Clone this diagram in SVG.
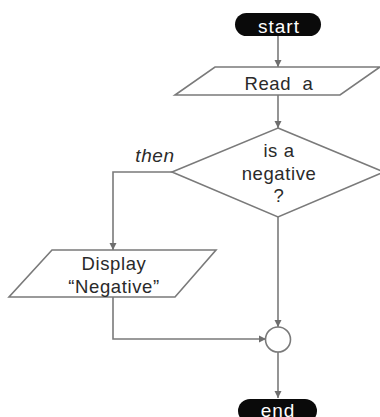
<svg xmlns="http://www.w3.org/2000/svg" width="380" height="417" viewBox="0 0 380 417">
<defs>
<marker id="arr" markerWidth="8" markerHeight="8" refX="7" refY="4" orient="auto" markerUnits="userSpaceOnUse">
<path d="M0,0.5 L7,4 L0,7.5 Z" fill="#6e6e6e"/>
</marker>
<style>
.ln{fill:none;stroke:#7a7a7a;stroke-width:1.6}
.sh{fill:#fff;stroke:#7a7a7a;stroke-width:1.6}
.pill{fill:#0a0a0a}
.t{font-family:"Liberation Sans",Arial,sans-serif;font-size:18.5px;letter-spacing:0.6px;fill:#2a2a2a;text-anchor:middle}
.tw{font-family:"Liberation Sans",Arial,sans-serif;font-size:19px;letter-spacing:1px;fill:#fff;text-anchor:middle}
</style>
</defs>
<rect width="380" height="417" fill="#fff"/>
<g id="connectors">
<line class="ln" x1="278" y1="36" x2="278" y2="67" marker-end="url(#arr)"/>
<line class="ln" x1="278" y1="95" x2="278" y2="128" marker-end="url(#arr)"/>
<polyline class="ln" points="172,172 113,172 113,250" marker-end="url(#arr)"/>
<line class="ln" x1="278" y1="217" x2="278" y2="327" marker-end="url(#arr)"/>
<polyline class="ln" points="113,297 113,339 266,339" marker-end="url(#arr)"/>
<line class="ln" x1="278" y1="352" x2="278" y2="398" marker-end="url(#arr)"/>
<text x="155" y="162" font-family="Liberation Sans,Arial,sans-serif" font-size="19" letter-spacing="0.6" font-style="italic" fill="#2a2a2a" text-anchor="middle">then</text>
</g>
<g id="start">
<rect class="pill" x="235" y="13" width="86" height="23" rx="11.5"/>
<text class="tw" x="279" y="33">start</text>
</g>
<g id="read">
<polygon class="sh" points="215,67 380,67 340,95 175,95"/>
<text class="t" x="279" y="90" xml:space="preserve">Read  a</text>
</g>
<g id="decision">
<polygon class="sh" points="278,128 384,172 278,217 172,172"/>
<text class="t" x="279" y="157">is a</text>
<text class="t" x="279" y="180">negative</text>
<text class="t" x="279" y="202">?</text>
</g>
<g id="display">
<polygon class="sh" points="52,250 216,250 175,297 9,297"/>
<text class="t" x="114" y="270">Display</text>
<text class="t" x="114" y="293">“Negative”</text>
</g>
<g id="merge">
<circle class="sh" cx="278" cy="339.5" r="12.5"/>
</g>
<g id="end">
<rect class="pill" x="238" y="399" width="79" height="24" rx="12"/>
<text class="tw" x="278" y="417">end</text>
</g>
</svg>
